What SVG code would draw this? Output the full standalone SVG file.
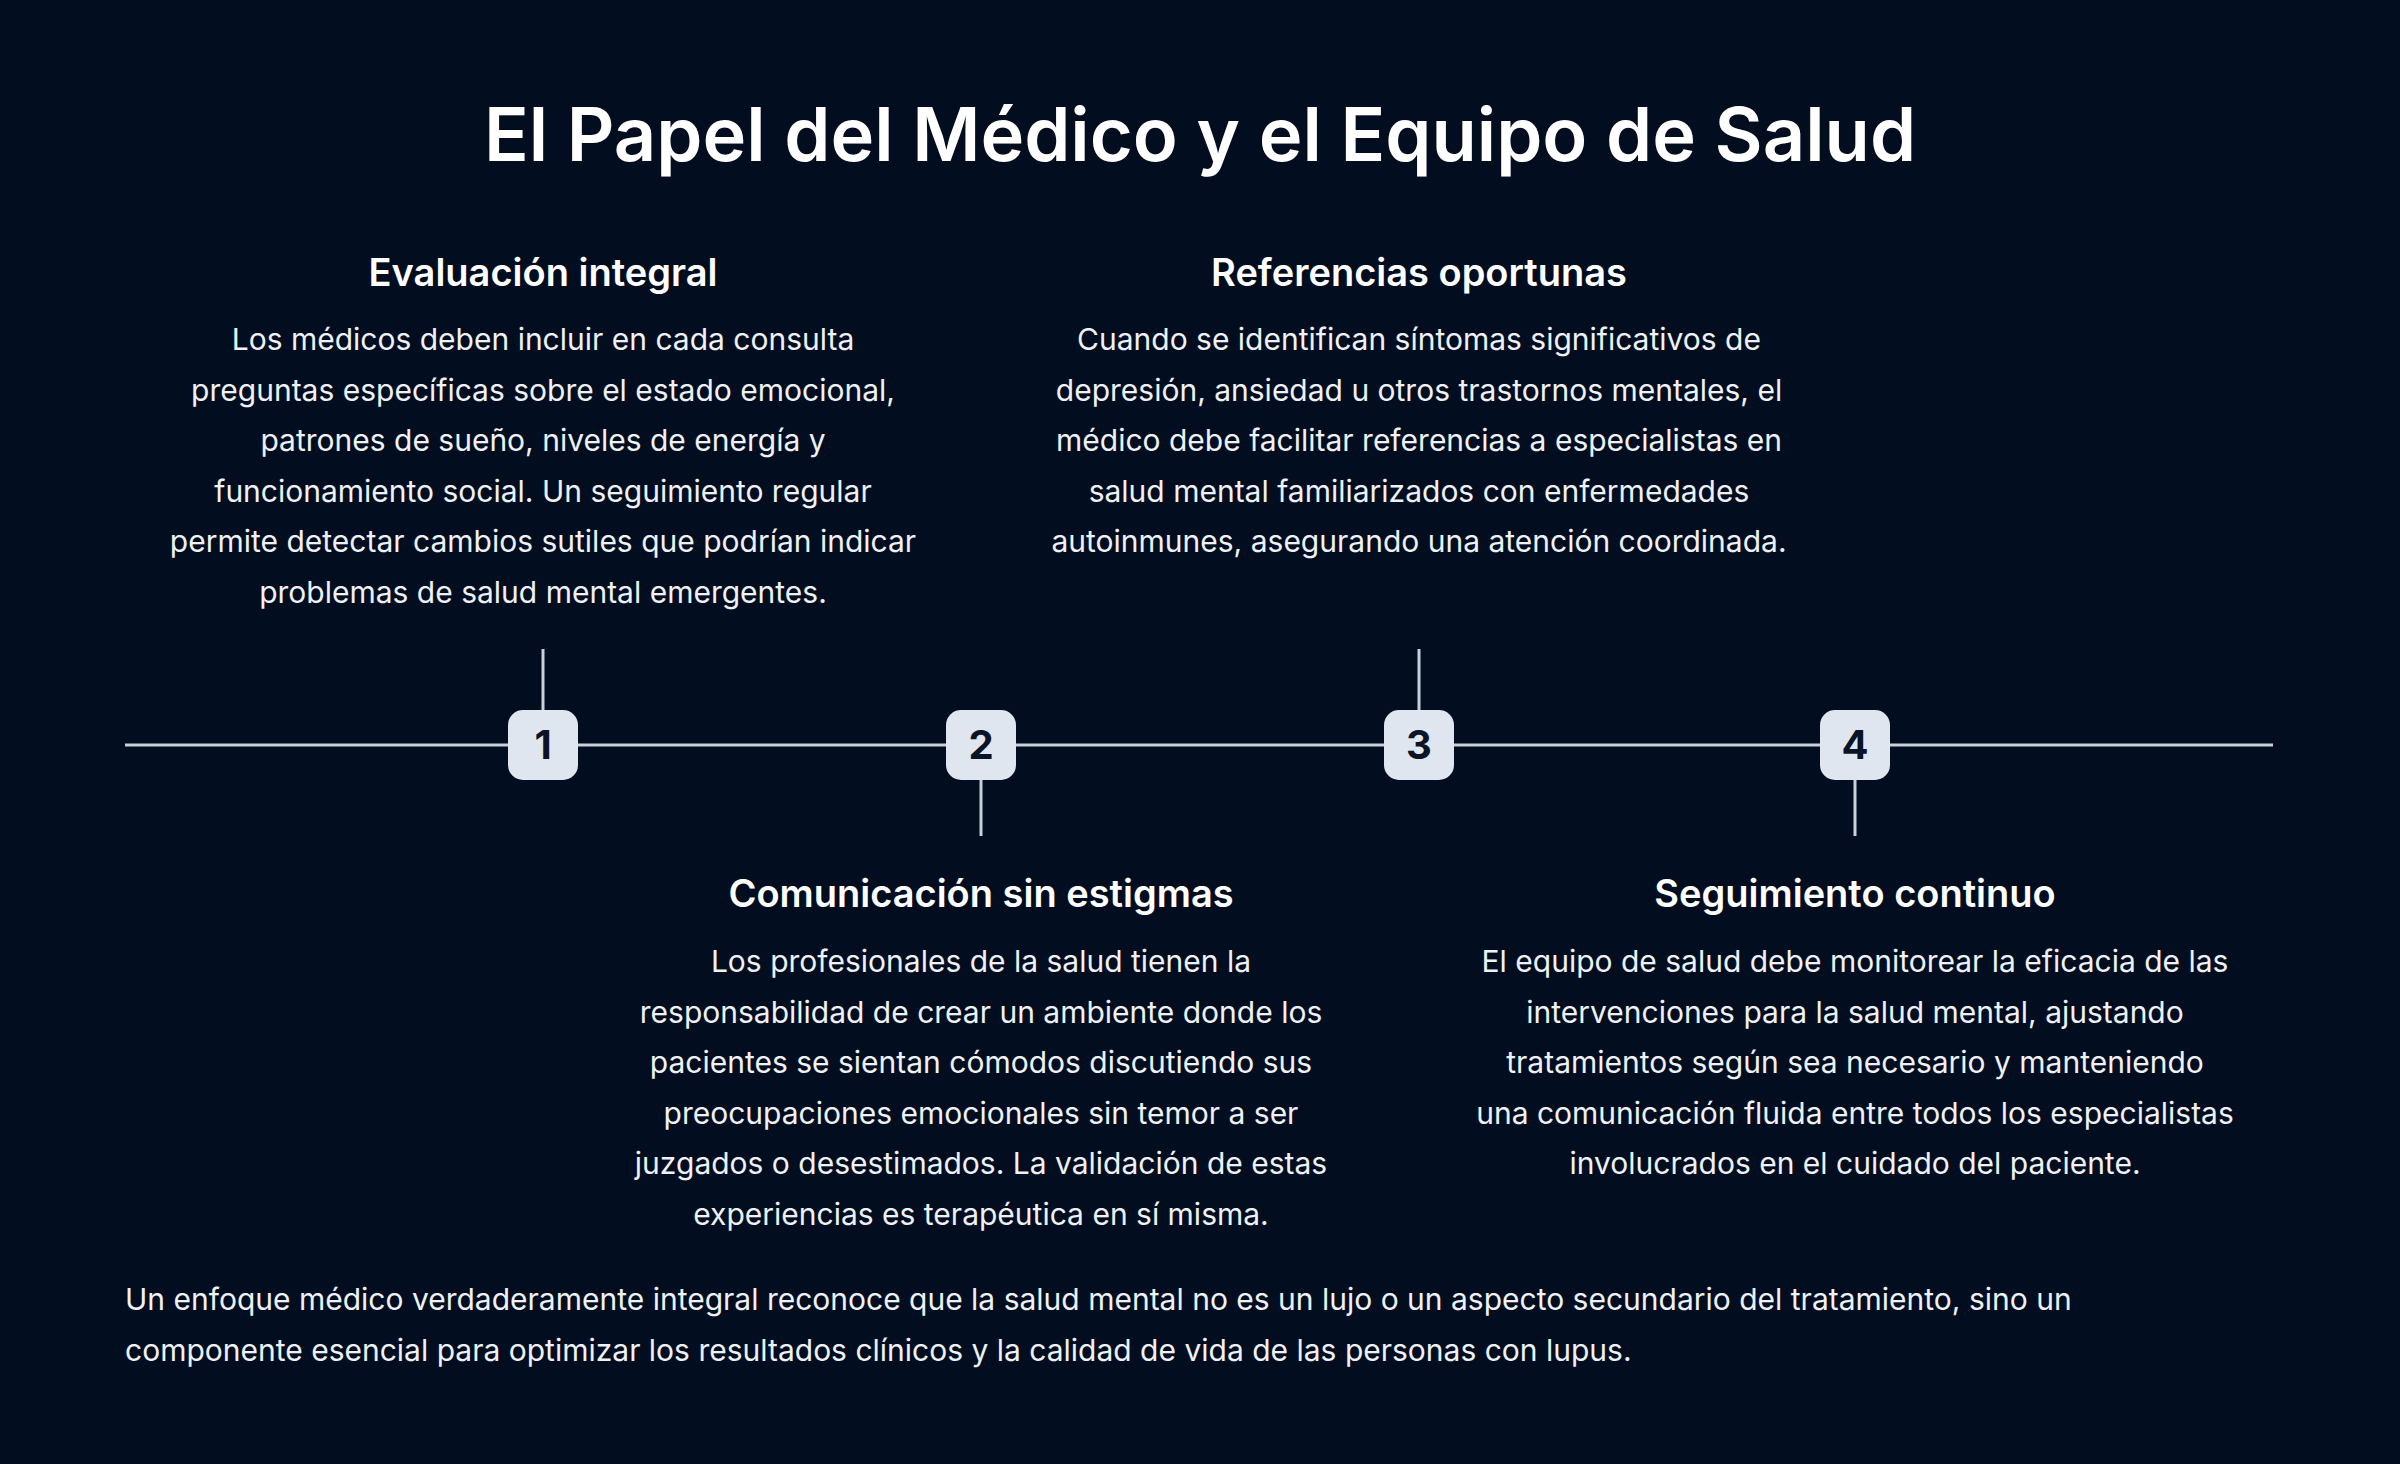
<svg xmlns="http://www.w3.org/2000/svg" width="2400" height="1464" viewBox="0 0 2400 1464">
<style>
text{font-family:Inter,"Noto Sans",sans-serif;fill:#ffffff}
.t{font-size:74px;font-weight:600;text-anchor:middle}
.h{font-size:38px;font-weight:600;text-anchor:middle}
.b{font-size:30px;text-anchor:middle;fill:#eef1f6}
.f{font-size:30px;fill:#eef1f6}
.n{font-size:40px;font-weight:700;text-anchor:middle;fill:#0b1426}
.m{fill:#dfe6ef}
.l{stroke:#c9d0da;stroke-width:3}
</style>
<rect width="2400" height="1464" fill="#020d1f"/>
<text class="t" x="1200" y="161">El Papel del Médico y el Equipo de Salud</text>
<g id="connectors">
<line class="l" x1="125" y1="745" x2="2273" y2="745"/>
<line class="l" x1="543" y1="649" x2="543" y2="712"/>
<line class="l" x1="1419" y1="649" x2="1419" y2="712"/>
<line class="l" x1="981" y1="778" x2="981" y2="836"/>
<line class="l" x1="1855" y1="778" x2="1855" y2="836"/>
</g>
<g id="m1"><rect class="m" x="508" y="710" width="70" height="70" rx="15"/><text class="n" x="543" y="759">1</text></g>
<g id="m2"><rect class="m" x="946" y="710" width="70" height="70" rx="15"/><text class="n" x="981" y="759">2</text></g>
<g id="m3"><rect class="m" x="1384" y="710" width="70" height="70" rx="15"/><text class="n" x="1419" y="759">3</text></g>
<g id="m4"><rect class="m" x="1820" y="710" width="70" height="70" rx="15"/><text class="n" x="1855" y="759">4</text></g>
<g id="n1">
<text class="h" x="543" y="286">Evaluación integral</text>
<text class="b" x="543" y="350">Los médicos deben incluir en cada consulta</text>
<text class="b" x="543" y="401">preguntas específicas sobre el estado emocional,</text>
<text class="b" x="543" y="451">patrones de sueño, niveles de energía y</text>
<text class="b" x="543" y="502">funcionamiento social. Un seguimiento regular</text>
<text class="b" x="543" y="552">permite detectar cambios sutiles que podrían indicar</text>
<text class="b" x="543" y="603">problemas de salud mental emergentes.</text>
</g>
<g id="n3">
<text class="h" x="1419" y="286">Referencias oportunas</text>
<text class="b" x="1419" y="350">Cuando se identifican síntomas significativos de</text>
<text class="b" x="1419" y="401">depresión, ansiedad u otros trastornos mentales, el</text>
<text class="b" x="1419" y="451">médico debe facilitar referencias a especialistas en</text>
<text class="b" x="1419" y="502">salud mental familiarizados con enfermedades</text>
<text class="b" x="1419" y="552">autoinmunes, asegurando una atención coordinada.</text>
</g>
<g id="n2">
<text class="h" x="981" y="907">Comunicación sin estigmas</text>
<text class="b" x="981" y="972">Los profesionales de la salud tienen la</text>
<text class="b" x="981" y="1023">responsabilidad de crear un ambiente donde los</text>
<text class="b" x="981" y="1073">pacientes se sientan cómodos discutiendo sus</text>
<text class="b" x="981" y="1124">preocupaciones emocionales sin temor a ser</text>
<text class="b" x="981" y="1174">juzgados o desestimados. La validación de estas</text>
<text class="b" x="981" y="1225">experiencias es terapéutica en sí misma.</text>
</g>
<g id="n4">
<text class="h" x="1855" y="907">Seguimiento continuo</text>
<text class="b" x="1855" y="972">El equipo de salud debe monitorear la eficacia de las</text>
<text class="b" x="1855" y="1023">intervenciones para la salud mental, ajustando</text>
<text class="b" x="1855" y="1073">tratamientos según sea necesario y manteniendo</text>
<text class="b" x="1855" y="1124">una comunicación fluida entre todos los especialistas</text>
<text class="b" x="1855" y="1174">involucrados en el cuidado del paciente.</text>
</g>
<text class="f" x="125" y="1310">Un enfoque médico verdaderamente integral reconoce que la salud mental no es un lujo o un aspecto secundario del tratamiento, sino un</text>
<text class="f" x="125" y="1361">componente esencial para optimizar los resultados clínicos y la calidad de vida de las personas con lupus.</text>
</svg>
